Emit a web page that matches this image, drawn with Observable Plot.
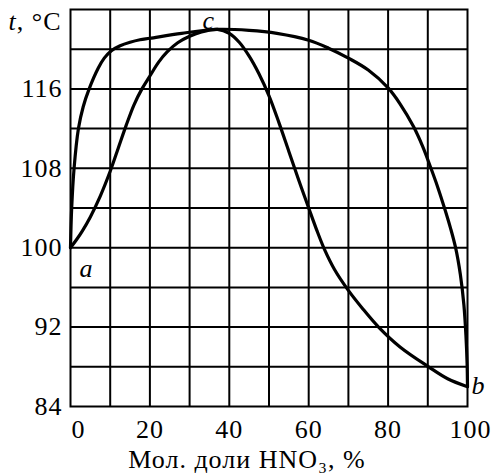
<!DOCTYPE html>
<html><head><meta charset="utf-8">
<script src="https://cdn.jsdelivr.net/npm/d3@7"></script>
<script src="https://cdn.jsdelivr.net/npm/@observablehq/plot@0.6"></script>
<style>html,body{margin:0;padding:0;background:#fff;}</style>
</head><body><div id="chart"></div>
<script>
// Vapor (dew) curve: mole % HNO3 vs temperature, °C
const vaporX = [0, 0.3, 0.9, 2, 3.2, 4.7, 7, 8.5, 10.3, 12.5, 15, 17.5, 20, 28, 37, 45, 52, 60, 65, 70, 75, 80, 83, 86.4, 88.7, 90.7, 92.5, 94.2, 95.7, 97, 98.2, 99.1, 99.6, 99.9, 100];
const vaporT = [100, 104, 108, 112, 114.2, 116, 118.1, 119.1, 119.85, 120.35, 120.7, 120.95, 121.1, 121.6, 122, 121.9, 121.6, 120.9, 120.1, 119.1, 117.9, 116.1, 114.5, 112.2, 110.2, 108.1, 106.1, 104, 102, 100, 97.3, 94.2, 91.2, 88.3, 86];
// Liquid (boiling) curve
const liquidX = [0, 1.5, 3, 5, 7.5, 10, 12, 14, 16, 18, 20, 22.2, 24.4, 27, 30, 33, 37, 40, 42.5, 45, 47.5, 50, 52.5, 55, 57.5, 60, 62, 64, 66.5, 69.8, 73.5, 77.6, 83, 90.2, 95, 100];
const liquidT = [100, 100.8, 101.7, 103.1, 105.2, 107.7, 110, 112.3, 114.4, 116, 117.3, 118.7, 119.75, 120.65, 121.3, 121.75, 122, 121.6, 120.7, 119.3, 117.5, 115.3, 112.6, 109.7, 106.8, 104, 101.8, 99.8, 97.8, 95.8, 93.9, 92, 90, 88, 86.8, 86];
// Axis ticks and grid
const xTicks = [20, 40, 60, 80];
const xTickFirst = [0];
const xTickLast = [100];
const yTicks = [84, 92, 100, 108, 116];
const xGrid = [10, 20, 30, 40, 50, 60, 70, 80, 90];
const yGrid = [88, 92, 96, 100, 104, 108, 112, 116, 120];
// Point letters
const pointNames = ["a", "b", "c"];
const pointX = [4, 102.8, 34.8];
const pointT = [97.9, 86.1, 122.9];
// Texts
const xLabel = "Мол. доли HNO₃, %";
const yVar = "t";
const yUnit = ", °C";

const vapor = vaporX.map((x, i) => ({x, t: vaporT[i]}));
const liquid = liquidX.map((x, i) => ({x, t: liquidT[i]}));
const points = pointNames.map((n, i) => ({n, x: pointX[i], t: pointT[i]}));

const chart = Plot.plot({
  width: 495,
  height: 476,
  marginLeft: 70,
  marginRight: 28,
  marginTop: 9,
  marginBottom: 70,
  style: {fontFamily: "Liberation Serif", fontSize: "26px", letterSpacing: "1px", background: "white", color: "black"},
  x: {domain: [0, 100], axis: null},
  y: {domain: [84, 124], axis: null},
  marks: [
    Plot.gridX(xGrid, {stroke: "black", strokeOpacity: 1, strokeWidth: 2}),
    Plot.gridY(yGrid, {stroke: "black", strokeOpacity: 1, strokeWidth: 2}),
    Plot.frame({stroke: "black", strokeWidth: 2}),
    Plot.axisX(xTicks, {tickSize: 0, tickPadding: 13, fontSize: 26, label: null}),
    Plot.axisX(xTickFirst, {tickSize: 0, tickPadding: 13, fontSize: 26, dx: 8, label: null}),
    Plot.axisX(xTickLast, {tickSize: 0, tickPadding: 13, fontSize: 26, dx: 3, label: null}),
    Plot.axisY(yTicks, {tickSize: 0, tickPadding: 8, fontSize: 26, label: null}),
    Plot.line(vapor, {x: "x", y: "t", stroke: "black", strokeWidth: 3.2, curve: "catmull-rom"}),
    Plot.line(liquid, {x: "x", y: "t", stroke: "black", strokeWidth: 3.2, curve: "catmull-rom"}),
    Plot.text(points, {x: "x", y: "t", text: "n", fontSize: 26, fontStyle: "italic", fill: "black"}),
    Plot.text([xLabel], {frameAnchor: "bottom", lineAnchor: "bottom", text: d => d, dy: 61, dx: -22, fontSize: 26, fill: "black"}),
    Plot.text([yVar], {frameAnchor: "top-left", lineAnchor: "middle", text: d => d, textAnchor: "start", dx: -62, dy: 12, fontSize: 26, fontStyle: "italic", fill: "black"}),
    Plot.text([yUnit], {frameAnchor: "top-left", lineAnchor: "middle", text: d => d, textAnchor: "end", dx: -9, dy: 12, fontSize: 26, fill: "black"})
  ]
});
document.getElementById("chart").appendChild(chart);
</script>
</body></html>
